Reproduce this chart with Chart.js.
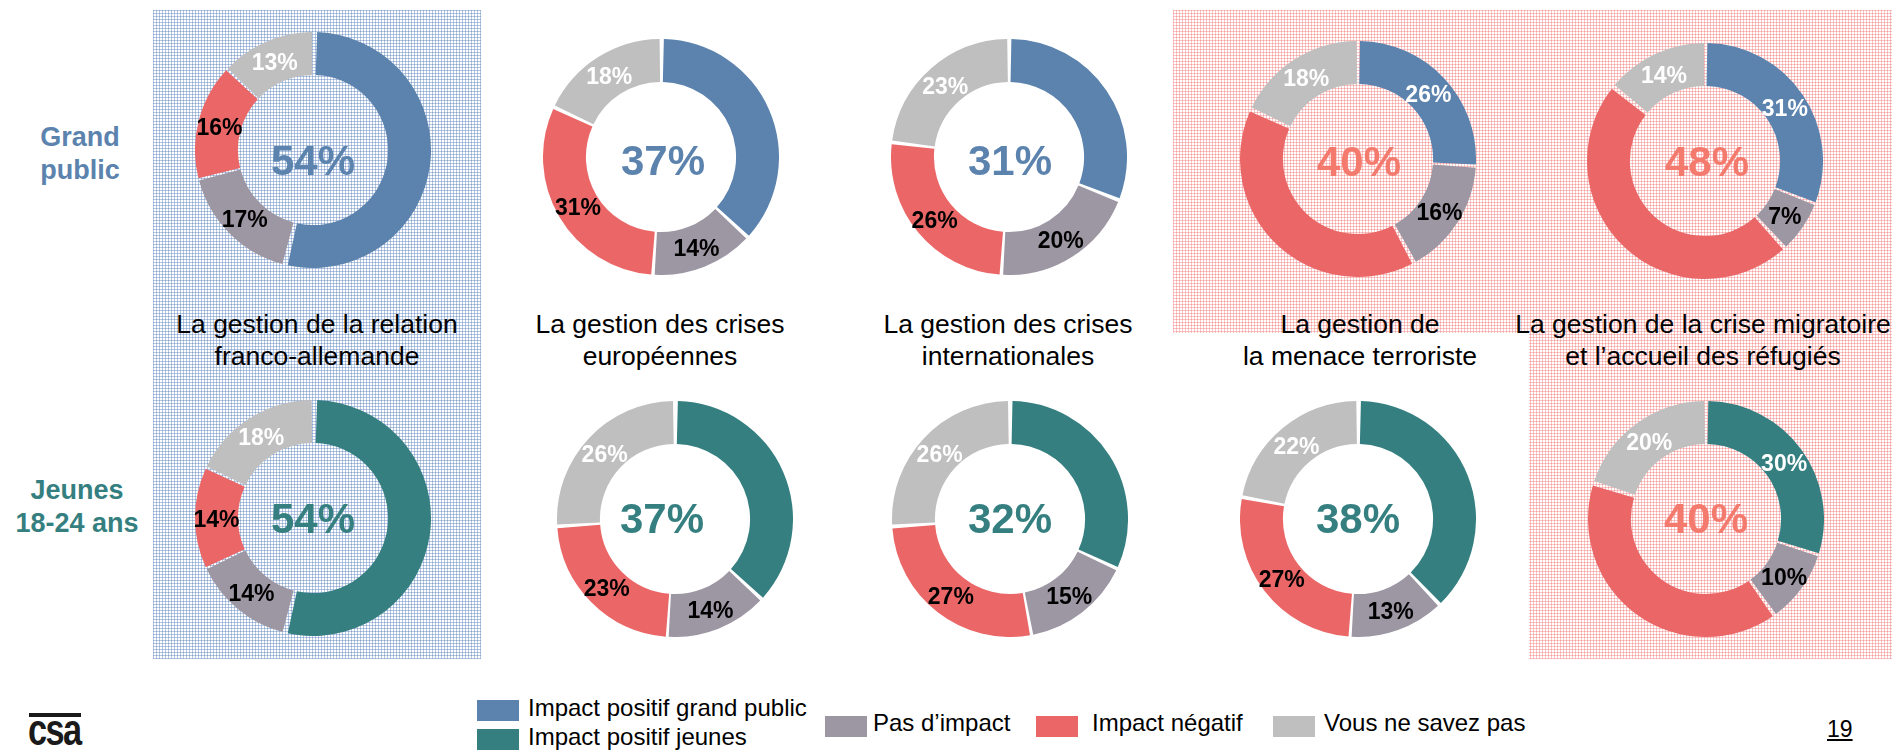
<!DOCTYPE html>
<html lang="fr">
<head>
<meta charset="utf-8">
<title>Impact - gestion des crises</title>
<script src="https://cdn.jsdelivr.net/npm/chart.js@4.4.0/dist/chart.umd.min.js"></script>
<style>
    body {
        margin: 0;
        width: 1892px;
        height: 752px;
        position: relative;
        overflow: hidden;
        background: #fff;
        font-family: 'Liberation Sans', Arial, sans-serif;
    }
    .abs { position: absolute; }
    .pat-bleu {
        background-color: #fff;
        background-image:
            repeating-linear-gradient(90deg, rgba(91, 131, 190, 0.45) 0 1px, transparent 1px 3px),
            repeating-linear-gradient(0deg, rgba(91, 131, 190, 0.45) 0 1px, transparent 1px 3px);
    }
    .pat-rouge {
        background-color: #fff;
        background-image:
            repeating-linear-gradient(90deg, rgba(240, 110, 110, 0.4) 0 1px, transparent 1px 3px),
            repeating-linear-gradient(0deg, rgba(240, 110, 110, 0.4) 0 1px, transparent 1px 3px);
    }
    .titre {
        font-size: 26.5px;
        line-height: 32px;
        color: #000;
        text-align: center;
        white-space: pre-line;
        width: 500px;
    }
    .ligne {
        font-size: 27px;
        line-height: 33px;
        font-weight: bold;
        text-align: center;
        white-space: pre-line;
        width: 200px;
    }
    .leg-txt {
        font-size: 24px;
        line-height: 28px;
        color: #000;
        white-space: nowrap;
    }
</style>
</head>
<body>
<div class="abs pat-bleu" style="left:153px; top:10px; width:328px; height:649px;"></div>
<div class="abs pat-rouge" style="left:1173px; top:10px; width:719px; height:649px;
     clip-path: polygon(0 0, 719px 0, 719px 649px, 356px 649px, 356px 323px, 0 323px);"></div>

<script>
// categories (ordre des segments, sens horaire depuis midi)
const categories = ['Impact positif', 'Pas d’impact', 'Impact négatif', 'Vous ne savez pas'];
const themes = [
    'La gestion de la relation\nfranco-allemande',
    'La gestion des crises\neuropéennes',
    'La gestion des crises\ninternationales',
    'La gestion de\nla menace terroriste',
    'La gestion de la crise migratoire\net l’accueil des réfugiés'
];
const lignes = ['Grand\npublic', 'Jeunes\n18-24 ans'];

// grand public
const positifGP = [54, 37, 31, 26, 31];
const pasImpactGP = [17, 14, 20, 16, 7];
const negatifGP = [16, 31, 26, 40, 48];
const nspGP = [13, 18, 23, 18, 14];
// jeunes 18-24 ans
const positifJ = [54, 37, 32, 38, 30];
const pasImpactJ = [14, 14, 15, 13, 10];
const negatifJ = [14, 23, 27, 27, 40];
const nspJ = [18, 26, 26, 22, 20];
// quel segment est affiché au centre (0 = positif, 2 = négatif)
const centreGP = [0, 0, 0, 2, 2];
const centreJ = [0, 0, 0, 0, 2];

const legende = ['Impact positif grand public', 'Impact positif jeunes', 'Pas d’impact', 'Impact négatif', 'Vous ne savez pas'];

// couleurs
const bleu = '#5b83ae';
const teal = '#357f80';
const grisViolet = '#9d97a4';
const rouge = '#eb6767';
const grisClair = '#bfbfbf';
const saumon = '#f47a6d';

// mise en page (pixels)
const SIZE = 236;
const centresLigne1 = [[313, 150], [661, 157], [1009, 157], [1358, 159], [1705, 161]];
const textesLigne1 = [[313, 160], [663, 160], [1010, 160], [1359, 161], [1707, 161]];
const centresLigne2 = [[313, 518], [675, 519], [1010, 519], [1358, 519], [1706, 519]];
const textesLigne2 = [[313, 518], [662, 518], [1010, 518], [1358, 518], [1706, 518]];
const titresX = [317, 660, 1008, 1360, 1703];

function addDiv(cls, left, top, html, style) {
    const d = document.createElement('div');
    d.className = 'abs ' + cls;
    d.style.left = left + 'px';
    d.style.top = top + 'px';
    if (style) d.style.cssText += style;
    d.textContent = html;
    document.body.appendChild(d);
    return d;
}

function donutChart(centre, texte, values, couleurPositif, idxCentre) {
    const canvas = document.createElement('canvas');
    canvas.width = SIZE;
    canvas.height = SIZE;
    canvas.className = 'abs';
    canvas.style.left = (centre[0] - SIZE / 2) + 'px';
    canvas.style.top = (centre[1] - SIZE / 2) + 'px';
    document.body.appendChild(canvas);

    const couleursTexte = ['#fff', '#000', '#000', '#fff'];
    const etiquettes = {
        id: 'etiquettes',
        afterDatasetsDraw(chart) {
            const ctx = chart.ctx;
            const arcs = chart.getDatasetMeta(0).data;
            const vals = chart.data.datasets[0].data;
            ctx.save();
            ctx.textAlign = 'center';
            ctx.textBaseline = 'alphabetic';
            ctx.font = 'bold 23px "Liberation Sans", Arial, sans-serif';
            arcs.forEach((arc, i) => {
                if (i === idxCentre) return;
                const p = arc.tooltipPosition();
                ctx.fillStyle = couleursTexte[i];
                ctx.fillText(vals[i] + '%', p.x, p.y + 9);
            });
            ctx.font = 'bold 42px "Liberation Sans", Arial, sans-serif';
            ctx.fillStyle = idxCentre === 0 ? couleurPositif : saumon;
            const x = SIZE / 2 + texte[0] - centre[0];
            const y = SIZE / 2 + texte[1] - centre[1] + 15;
            ctx.fillText(vals[idxCentre] + '%', x, y);
            ctx.restore();
        }
    };

    new Chart(canvas, {
        type: 'doughnut',
        data: {
            labels: categories,
            datasets: [{
                data: values,
                backgroundColor: [couleurPositif, grisViolet, rouge, grisClair],
                borderWidth: 0,
                spacing: 4
            }]
        },
        options: {
            responsive: false,
            animation: false,
            cutout: '63%',
            events: [],
            layout: { padding: 0 },
            plugins: {
                legend: { display: false },
                tooltip: { enabled: false }
            }
        },
        plugins: [etiquettes]
    });
}

// donuts
for (let i = 0; i < themes.length; i++) {
    donutChart(centresLigne1[i], textesLigne1[i],
        [positifGP[i], pasImpactGP[i], negatifGP[i], nspGP[i]], bleu, centreGP[i]);
    donutChart(centresLigne2[i], textesLigne2[i],
        [positifJ[i], pasImpactJ[i], negatifJ[i], nspJ[i]], teal, centreJ[i]);
    addDiv('titre', titresX[i] - 250, 308, themes[i]);
}

// libellés des lignes
addDiv('ligne', 80 - 100, 121, lignes[0], 'color:' + bleu + ';');
addDiv('ligne', 77 - 100, 474, lignes[1], 'color:' + teal + ';');

// légende
const legCouleurs = [bleu, teal, grisViolet, rouge, grisClair];
const legBoites = [[477, 700], [477, 729], [825, 716], [1036, 716], [1273, 716]];
const legTextes = [[528, 716], [528, 745], [873, 731], [1092, 731], [1324, 731]];
for (let i = 0; i < legende.length; i++) {
    addDiv('', legBoites[i][0], legBoites[i][1], '',
        'width:42px;height:21px;background:' + legCouleurs[i] + ';');
    addDiv('leg-txt', legTextes[i][0], legTextes[i][1] - 22, legende[i]);
}

// numéro de page
addDiv('', 1827, 716, '19', 'font-size:23px;line-height:26px;text-decoration:underline;color:#000;');

// logo
addDiv('', 29, 713, '', 'width:52px;height:4px;background:#1a1a1a;');
addDiv('', 28, 708, 'csa',
    'font-size:44px;line-height:44px;font-weight:bold;letter-spacing:-2px;color:#1a1a1a;transform:scaleX(0.78);transform-origin:left top;');
</script>
</body>
</html>
